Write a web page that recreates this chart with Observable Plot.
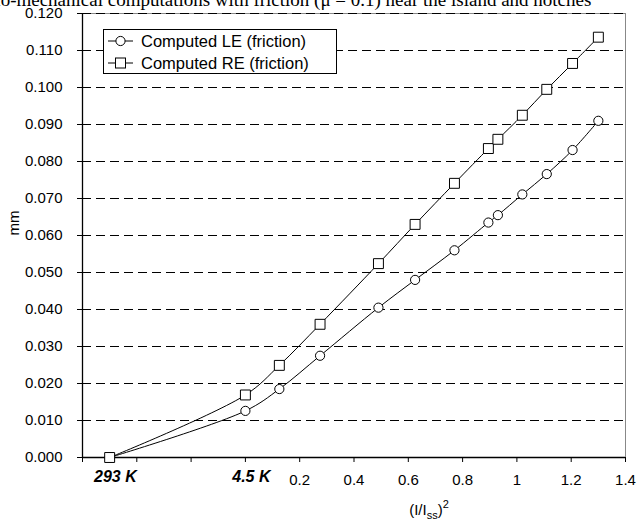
<!DOCTYPE html>
<html><head><meta charset="utf-8">
<script src="https://cdn.jsdelivr.net/npm/d3@7"></script>
<script src="https://cdn.jsdelivr.net/npm/@observablehq/plot@0.6"></script>
<style>
body{margin:0;background:#fff;}
#chart{position:relative;width:637px;height:520px;overflow:hidden;}
</style>
</head><body><div id="chart"></div>
<script>
const titleText = "Thermo-mechanical computations with friction (μ = 0.1) near the island and notches";
const seriesNames = ["Computed LE (friction)", "Computed RE (friction)"];
const xValues  = [-0.5, 0, 0.125, 0.275, 0.49, 0.625, 0.77, 0.895, 0.93, 1.02, 1.11, 1.205, 1.30];
const leValues = [0, 0.0126, 0.0185, 0.0275, 0.0405, 0.048, 0.056, 0.0635, 0.0655, 0.0711, 0.0766, 0.0831, 0.0910];
const reValues = [0, 0.0169, 0.0249, 0.0360, 0.0524, 0.063, 0.0741, 0.0835, 0.0860, 0.0925, 0.0995, 0.1065, 0.1136];
const xTickValues = [-0.6, -0.4, -0.2, 0, 0.2, 0.4, 0.6, 0.8, 1, 1.2, 1.4];
const xTickLabels = ["", "", "", "", "0.2", "0.4", "0.6", "0.8", "1", "1.2", "1.4"];
const yTickValues = [0, 0.01, 0.02, 0.03, 0.04, 0.05, 0.06, 0.07, 0.08, 0.09, 0.10, 0.11, 0.12];
const tempLabels = ["293 K", "4.5 K"];
const tempPositions = [-0.479, 0.022];
const xTitle = ["(I/I", "ss", ")", "2"];
const yTitle = "mm";

const data = [];
xValues.forEach((x, i) => {
  data.push({series: seriesNames[0], x, y: leValues[i]});
  data.push({series: seriesNames[1], x, y: reValues[i]});
});
const labelMap = new Map(xTickValues.map((v, i) => [v.toFixed(1), xTickLabels[i]]));
const FONT = "'Liberation Sans', Arial, sans-serif";

const chart = Plot.plot({
  width: 637, height: 520,
  marginLeft: 82, marginRight: 12, marginTop: 13, marginBottom: 63,
  style: {fontFamily: FONT, fontSize: "15px", color: "black", background: "white"},
  x: {domain: [-0.6, 1.4]},
  y: {domain: [0, 0.12]},
  marks: [
    Plot.frame({stroke: "#888", strokeWidth: 1}),
    Plot.ruleY(yTickValues.slice(1), {stroke: "black", strokeWidth: 1, strokeDasharray: "9,5"}),
    Plot.ruleX([-0.6], {stroke: "black", strokeWidth: 1.3}),
    Plot.ruleY([0], {stroke: "black", strokeWidth: 1.3}),
    Plot.axisY({ticks: yTickValues, tickFormat: d3.format(".3f"), tickSize: 5, tickPadding: 15, label: null, fontSize: 15}),
    Plot.axisX({ticks: xTickValues, tickFormat: d => labelMap.get(d.toFixed(1)) ?? "", tickSize: 5, tickPadding: 12, label: null, fontSize: 15}),
    Plot.text(tempLabels, {x: (d, i) => tempPositions[i], frameAnchor: "bottom", text: d => d, dy: 24, fontWeight: "bold", fontStyle: "italic", fontSize: 16}),
    Plot.text([yTitle], {frameAnchor: "left", text: d => d, dx: -68, rotate: -90, fontSize: 15}),
    Plot.line(data, {x: "x", y: "y", z: "series", curve: "catmull-rom", stroke: "black", strokeWidth: 1}),
    Plot.dot(data.filter(d => d.series === seriesNames[0]), {x: "x", y: "y", symbol: "circle", r: 4.6, fill: "white", stroke: "black", strokeWidth: 1}),
    Plot.dot(data.filter(d => d.series === seriesNames[1]), {x: "x", y: "y", symbol: "square", r: 5.6, fill: "white", stroke: "black", strokeWidth: 1})
  ]
});
document.getElementById("chart").appendChild(chart);

const svg = d3.select(chart);
// title (partially cut at top)
svg.append("text").attr("x", -50).attr("y", 6).attr("text-anchor", "start")
  .attr("font-family", "'Liberation Serif', 'Times New Roman', serif").attr("font-size", 19)
  .attr("fill", "black").text(titleText);

// x-axis title with subscript/superscript
const xt = svg.append("text").attr("x", 429).attr("y", 515).attr("text-anchor", "middle")
  .attr("font-family", FONT).attr("font-size", 15).attr("fill", "black");
xt.append("tspan").text(xTitle[0]);
xt.append("tspan").attr("font-size", 11).attr("dy", 4).text(xTitle[1]);
xt.append("tspan").attr("dy", -4).text(xTitle[2]);
xt.append("tspan").attr("font-size", 11).attr("dy", -7).text(xTitle[3]);

// legend
const lg = svg.append("g");
lg.append("rect").attr("x", 103.5).attr("y", 29.5).attr("width", 233).attr("height", 44)
  .attr("fill", "white").attr("stroke", "black").attr("stroke-width", 1);
seriesNames.forEach((name, i) => {
  const cy = 41 + 22 * i;
  lg.append("line").attr("x1", 108).attr("x2", 133).attr("y1", cy).attr("y2", cy).attr("stroke", "black");
  if (i === 0) {
    lg.append("circle").attr("cx", 120.5).attr("cy", cy).attr("r", 4.6).attr("fill", "white").attr("stroke", "black");
  } else {
    lg.append("rect").attr("x", 115.5).attr("y", cy - 5).attr("width", 10).attr("height", 10).attr("fill", "white").attr("stroke", "black");
  }
  lg.append("text").attr("x", 141).attr("y", cy).attr("dy", "0.35em").attr("text-anchor", "start")
    .attr("font-family", FONT).attr("font-size", 16.5).attr("fill", "black").text(name);
});
</script>
</body></html>
